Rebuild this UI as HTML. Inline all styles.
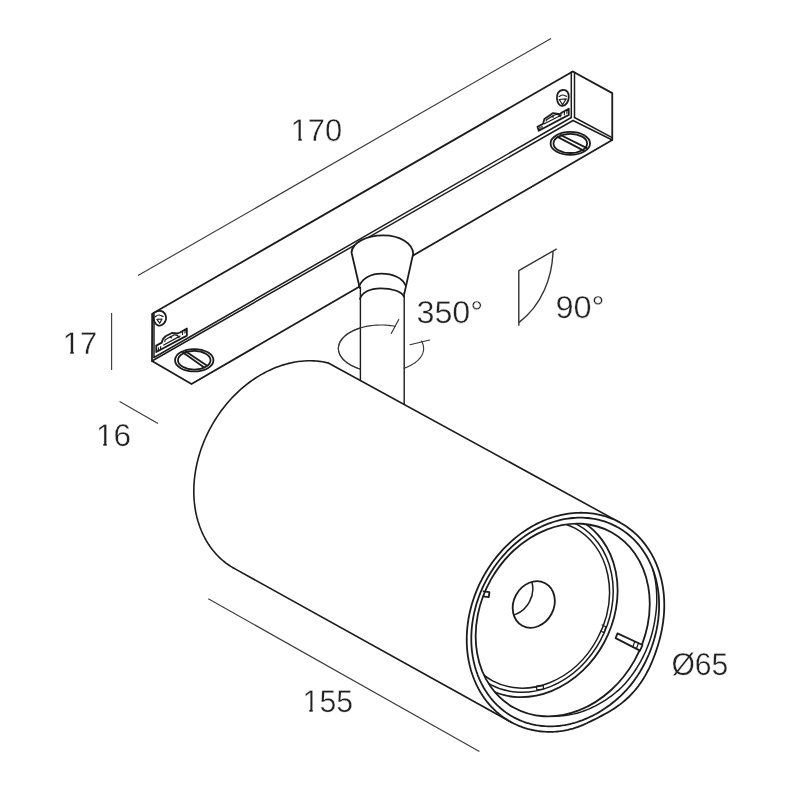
<!DOCTYPE html>
<html><head><meta charset="utf-8"><title>Track spotlight dimensions</title>
<style>
html,body{margin:0;padding:0;background:#fff;}
body{width:800px;height:800px;overflow:hidden;font-family:"Liberation Sans",sans-serif;}
svg{display:block;}
.m{stroke:#1c1c1c;stroke-width:1.8;stroke-linejoin:round;stroke-linecap:round;}
.s{stroke:#1c1c1c;stroke-width:1.4;stroke-linecap:round;fill:none;}
.c{stroke:#1c1c1c;stroke-width:1.6;stroke-linecap:round;stroke-linejoin:round;fill:none;}
.n{stroke:#1c1c1c;stroke-width:1.5;stroke-linecap:round;fill:none;}
.t{stroke:#1c1c1c;stroke-width:1.2;stroke-linejoin:round;stroke-linecap:round;fill:none;}
.r{stroke:#333;stroke-width:1.15;fill:none;stroke-linecap:round;}
.d{stroke:#3c3c3c;stroke-width:1.15;fill:none;}
.d2{stroke:#333;stroke-width:1.4;fill:none;stroke-linejoin:round;}
.tx{font-family:"Liberation Sans",sans-serif;font-size:31.6px;fill:#222;stroke:#fff;stroke-width:0.4px;text-rendering:geometricPrecision;}
</style></head>
<body>
<svg width="800" height="800" viewBox="0 0 800 800">
<rect x="0" y="0" width="800" height="800" fill="#fff"/>
<g id="track">
<path d="M152.20,313.80 L572.75,71.50 L612.25,93.10 L612.25,140.00 L191.50,384.00 L152.00,361.00 Z" fill="#fff" class="m"/>
<path d="M154.0,314.6 L154.0,357.4" class="n"/>
<path d="M154.0,357.5 L571.3,117.5" class="n"/>
<path d="M152.0,361.0 L573.0,120.5" class="n"/>
<path d="M571.3,72.2 L571.3,117.5" class="n"/>
<path d="M574.5,72.3 L574.5,117.5" class="n"/>
<path d="M574.5,117.5 L612.2,137.6" class="n"/>
<path d="M573.0,120.5 L612.25,140.0" class="n"/>
<ellipse cx="194.25" cy="360.25" rx="19.20" ry="11.20" class="m" fill="none"/><ellipse cx="194.25" cy="360.25" rx="16.30" ry="9.30" class="m" fill="none"/><path d="M183.00,352.60 L204.20,367.60" class="m"/><path d="M185.80,351.40 L206.80,365.60" class="m"/>
<ellipse cx="570.30" cy="143.40" rx="19.70" ry="11.50" class="m" fill="none"/><ellipse cx="570.30" cy="143.40" rx="16.80" ry="9.60" class="m" fill="none"/><path d="M557.50,136.90 L583.70,150.60" class="m"/><path d="M560.60,135.00 L586.90,148.10" class="m"/>
<path d="M152.81,314.38 C153.49,313.18 155.78,311.67 157.50,311.25 C159.22,310.83 161.72,311.04 163.12,311.88 C164.53,312.71 165.57,314.69 165.94,316.25 C166.30,317.81 165.99,319.79 165.31,321.25 C164.64,322.71 163.12,324.32 161.88,325.00 C160.62,325.68 158.96,325.68 157.81,325.31 C156.67,324.95 155.73,323.96 155.00,322.81 C154.27,321.67 153.80,319.84 153.44,318.44 C153.07,317.03 152.14,315.57 152.81,314.38 Z" class="m" fill="none"/>
<path d="M155.00,316.88 C155.57,316.56 157.08,315.05 158.44,315.00 C159.79,314.95 162.34,316.30 163.12,316.56" class="t" fill="none"/>
<path d="M156.88,319.38 L162.00,319.00 L159.69,323.25 Z" class="t" fill="none"/>
<path d="M156.25,345.62 L161.75,342.62 L163.00,338.88 L165.62,336.25 L171.88,332.94 L177.50,333.50 L180.00,332.50 L186.88,328.44 L186.88,335.62 L156.25,352.00 Z" class="m" fill="none"/>
<path d="M163.75,345.00 L180.00,336.12" class="t" fill="none"/>
<path d="M164.88,341.56 L164.88,340.00 L171.25,336.25 L171.25,338.00" class="t" fill="none"/>
<path d="M171.88,336.25 C172.29,336.02 173.44,334.98 174.38,334.88 C175.31,334.77 176.72,335.17 177.50,335.62 C178.28,336.08 178.80,337.29 179.06,337.62" class="t" fill="none"/>
<path d="M158.44,347.81 L158.44,350.62" class="t" fill="none"/>
<path d="M160.62,346.56 L160.62,349.06" class="t" fill="none"/>
<path d="M182.50,331.25 L182.50,334.38" class="t" fill="none"/>
<path d="M185.00,329.88 L185.00,333.00" class="t" fill="none"/>
<path d="M562.50,90.00 C564.06,89.84 566.46,90.62 567.50,91.88 C568.54,93.12 568.85,95.62 568.75,97.50 C568.65,99.38 567.92,101.72 566.88,103.12 C565.83,104.53 563.85,105.78 562.50,105.94 C561.15,106.09 559.67,105.26 558.75,104.06 C557.83,102.86 557.10,100.62 557.00,98.75 C556.90,96.88 557.21,94.27 558.12,92.81 C559.04,91.35 560.94,90.16 562.50,90.00 Z" class="m" fill="none"/>
<path d="M559.06,96.56 C559.64,96.30 561.25,95.03 562.50,95.00 C563.75,94.97 565.89,96.15 566.56,96.38" class="t" fill="none"/>
<path d="M559.25,99.50 L566.25,98.88 L562.50,104.75 Z" class="t" fill="none"/>
<path d="M537.50,126.88 L543.12,123.75 L544.38,118.88 L553.12,113.12 L560.00,114.12 L561.88,112.50 L568.75,108.75 L568.75,114.88 L538.75,130.75 Z" class="m" fill="none"/>
<path d="M544.38,123.75 L561.56,115.00" class="t" fill="none"/>
<path d="M546.25,120.94 L546.25,120.00 L553.12,115.62 L553.12,117.38" class="t" fill="none"/>
<path d="M553.75,115.62 C554.17,115.44 555.36,114.58 556.25,114.50 C557.14,114.42 558.39,114.73 559.06,115.12 C559.74,115.52 560.10,116.58 560.31,116.88" class="t" fill="none"/>
<path d="M540.00,127.19 L540.00,129.38" class="t" fill="none"/>
<path d="M542.00,126.12 L542.00,128.25" class="t" fill="none"/>
<path d="M564.38,111.56 L564.38,114.69" class="t" fill="none"/>
<path d="M566.88,110.12 L566.88,113.25" class="t" fill="none"/>
</g>
<g id="cyl">
<path d="M328.33,363.00 L325.45,362.35 L322.52,361.81 L319.57,361.38 L316.58,361.07 L313.56,360.87 L310.52,360.78 L307.46,360.81 L304.38,360.95 L301.29,361.21 L298.18,361.58 L295.06,362.06 L291.94,362.66 L288.82,363.37 L285.70,364.18 L282.58,365.11 L279.48,366.15 L276.38,367.30 L273.29,368.55 L270.23,369.91 L267.18,371.38 L264.16,372.94 L261.17,374.61 L258.21,376.38 L255.28,378.24 L252.39,380.20 L249.53,382.26 L246.72,384.40 L243.96,386.64 L241.24,388.96 L238.58,391.37 L235.97,393.85 L233.41,396.42 L230.92,399.06 L228.49,401.78 L226.12,404.57 L223.82,407.42 L221.59,410.34 L219.43,413.33 L217.35,416.37 L215.34,419.47 L213.41,422.61 L211.56,425.81 L209.80,429.06 L208.12,432.34 L206.52,435.67 L205.02,439.03 L203.60,442.42 L202.27,445.84 L201.04,449.28 L199.90,452.75 L198.85,456.23 L197.90,459.72 L197.05,463.23 L196.29,466.74 L195.64,470.26 L195.08,473.77 L194.62,477.28 L194.27,480.78 L194.01,484.27 L193.86,487.74 L193.80,491.19 L193.85,494.62 L194.00,498.02 L194.25,501.39 L194.60,504.73 L195.05,508.03 L195.60,511.29 L196.25,514.51 L197.00,517.68 L197.85,520.79 L198.79,523.86 L199.83,526.86 L200.97,529.80 L202.19,532.69 L203.52,535.50 L204.93,538.24 L206.43,540.91 L208.02,543.51 L209.69,546.03 L211.46,548.47 L213.30,550.82 L215.22,553.09 L217.22,555.27 L219.30,557.35 L221.46,559.35 L223.68,561.25 L225.98,563.06 L228.34,564.76 L230.77,566.37 L233.26,567.87 L511.56,722.36 L619.81,522.45 Z" fill="#fff" stroke="none"/>
</g>
<path d="M403.80,368.35 L404.75,368.01 L405.68,367.65 L406.59,367.29 L407.49,366.90 L408.37,366.51 L409.22,366.10 L410.06,365.68 L410.88,365.25 L411.68,364.81 L412.45,364.35 L413.20,363.88 L413.93,363.41 L414.64,362.92 L415.32,362.42 L415.98,361.91 L416.61,361.39 L417.22,360.87 L417.81,360.33 L418.36,359.79 L418.89,359.24 L419.40,358.68 L419.87,358.11 L420.32,357.54 L420.74,356.96 L421.14,356.37 L421.50,355.78 L421.84,355.19 L422.15,354.58 L422.43,353.98 L422.68,353.37 L422.90,352.76 L423.09,352.14 L423.25,351.52 L423.38,350.90 L423.48,350.28 L423.55,349.66 L423.59,349.03 L423.60,348.41 L423.58,347.78 L423.53,347.16 L423.45,346.54 L423.34,345.92 L423.20,345.30 L423.03,344.68 L422.83,344.06 L422.61,343.45 L422.35,342.84 L422.06,342.24 L421.74,341.64 L421.40,341.05" class="r"/>
<path d="M395.00,326.31 L392.59,325.89 L390.15,325.55 L387.67,325.29 L385.17,325.11 L382.65,325.02 L380.13,325.00 L377.61,325.07 L375.10,325.23 L372.62,325.46 L370.16,325.77 L367.74,326.17 L365.37,326.64 L363.05,327.19 L360.79,327.81 L358.61,328.51 L356.50,329.27 L354.48,330.11 L352.56,331.01 L350.73,331.96 L349.01,332.98 L347.40,334.05 L345.91,335.18 L344.54,336.35 L343.30,337.56 L342.19,338.81 L341.22,340.09 L340.39,341.40 L339.70,342.74 L339.15,344.10 L338.75,345.48 L338.50,346.86 L338.40,348.25 L338.45,349.64 L338.65,351.03 L338.99,352.41 L339.49,353.77 L340.12,355.12 L340.91,356.44 L341.83,357.74 L342.89,359.00 L344.08,360.22 L345.40,361.41 L346.85,362.55 L348.42,363.64 L350.10,364.68 L351.89,365.66 L353.78,366.58 L355.77,367.43 L357.84,368.22 L360.00,368.95" class="r" id="rot-back"/>
<g id="stem">
<path d="M360,290 L360,381 L403.8,405 L403.8,290 Z" fill="#fff" stroke="none"/>
<path d="M351.5,252.4 C352.2,243.2 365.5,235.3 383.4,235.3 C400.5,235.3 412.6,243.6 413.2,253.5 L404.4,293.4 L404,300 L360,300 L359.7,287.8 Z" fill="#fff" stroke="none"/>
<path d="M359.7,287.8 L351.5,252.4 C352.2,243.2 365.5,235.3 383.4,235.3 C400.5,235.3 412.6,243.6 413.2,253.5 L404.4,293.4" class="m" fill="none"/>
<path d="M359.4,286.0 C362.0,278.6 371.0,273.7 381.5,273.7 C393.0,273.7 402.5,278.2 405.3,285.0" class="m" fill="none"/>
<path d="M360.0,299.0 C361.6,292.6 370.0,288.3 380.6,288.3 C392.0,288.3 401.6,291.4 404.0,296.6" class="m" fill="none"/>
<path d="M360.4,287.5 L360.4,380.5" class="s"/>
<path d="M404.2,293 L404.2,404.6" class="s"/>
</g>
<path d="M395.00,326.31 L393.46,326.03 L391.90,325.78 L390.32,325.57 L388.73,325.39 L387.13,325.24 L385.51,325.13 L383.90,325.05 L382.28,325.01 L380.65,325.00 L379.03,325.03 L377.41,325.08 L375.79,325.18 L374.19,325.30 L372.59,325.46 L371.00,325.66 L369.43,325.88 L367.88,326.14 L366.35,326.43 L364.83,326.76 L363.34,327.11 L361.88,327.50 L360.44,327.92 L359.03,328.36 L357.66,328.84 L356.32,329.35 L355.01,329.88 L353.75,330.44 L352.52,331.02 L351.33,331.64 L350.19,332.27 L349.09,332.93 L348.04,333.61 L347.03,334.32 L346.08,335.04 L345.17,335.79 L344.32,336.55 L343.52,337.33 L342.78,338.12 L342.09,338.93 L341.46,339.76 L340.88,340.60 L340.36,341.45 L339.91,342.30 L339.51,343.17 L339.17,344.05 L338.89,344.93 L338.68,345.82 L338.52,346.71 L338.43,347.60 L338.40,348.50" class="r"/>
<path d="M338.40,348.50 L338.41,349.00 L338.44,349.49 L338.49,349.99 L338.55,350.48 L338.64,350.98 L338.74,351.47 L338.86,351.96 L339.01,352.45 L339.17,352.94 L339.35,353.42 L339.54,353.91 L339.76,354.39 L339.99,354.87 L340.25,355.34 L340.52,355.82 L340.81,356.29 L341.11,356.75 L341.44,357.21 L341.78,357.67 L342.14,358.13 L342.52,358.58 L342.91,359.02 L343.32,359.47 L343.75,359.90 L344.19,360.33 L344.65,360.76 L345.13,361.18 L345.63,361.59 L346.13,362.00 L346.66,362.41 L347.20,362.80 L347.75,363.19 L348.32,363.58 L348.91,363.95 L349.50,364.32 L350.12,364.69 L350.74,365.04 L351.38,365.39 L352.04,365.73 L352.70,366.07 L353.38,366.39 L354.07,366.71 L354.77,367.02 L355.49,367.32 L356.21,367.61 L356.95,367.90 L357.70,368.17 L358.45,368.44 L359.22,368.70 L360.00,368.95" class="r"/>
<path d="M398.75,319.4 L391.25,333.4" class="r"/>
<path d="M410.0,344.7 L429.7,340.0" class="r"/>
<g id="cyl-lines">
<path d="M328.33,363.00 L325.45,362.35 L322.52,361.81 L319.57,361.38 L316.58,361.07 L313.56,360.87 L310.52,360.78 L307.46,360.81 L304.38,360.95 L301.29,361.21 L298.18,361.58 L295.06,362.06 L291.94,362.66 L288.82,363.37 L285.70,364.18 L282.58,365.11 L279.48,366.15 L276.38,367.30 L273.29,368.55 L270.23,369.91 L267.18,371.38 L264.16,372.94 L261.17,374.61 L258.21,376.38 L255.28,378.24 L252.39,380.20 L249.53,382.26 L246.72,384.40 L243.96,386.64 L241.24,388.96 L238.58,391.37 L235.97,393.85 L233.41,396.42 L230.92,399.06 L228.49,401.78 L226.12,404.57 L223.82,407.42 L221.59,410.34 L219.43,413.33 L217.35,416.37 L215.34,419.47 L213.41,422.61 L211.56,425.81 L209.80,429.06 L208.12,432.34 L206.52,435.67 L205.02,439.03 L203.60,442.42 L202.27,445.84 L201.04,449.28 L199.90,452.75 L198.85,456.23 L197.90,459.72 L197.05,463.23 L196.29,466.74 L195.64,470.26 L195.08,473.77 L194.62,477.28 L194.27,480.78 L194.01,484.27 L193.86,487.74 L193.80,491.19 L193.85,494.62 L194.00,498.02 L194.25,501.39 L194.60,504.73 L195.05,508.03 L195.60,511.29 L196.25,514.51 L197.00,517.68 L197.85,520.79 L198.79,523.86 L199.83,526.86 L200.97,529.80 L202.19,532.69 L203.52,535.50 L204.93,538.24 L206.43,540.91 L208.02,543.51 L209.69,546.03 L211.46,548.47 L213.30,550.82 L215.22,553.09 L217.22,555.27 L219.30,557.35 L221.46,559.35 L223.68,561.25 L225.98,563.06 L228.34,564.76 L230.77,566.37 L233.26,567.87" class="c" fill="none"/>
<path d="M328.33,363.00 L619.81,522.45" class="c"/>
<path d="M233.26,567.87 L511.56,722.36" class="c"/>
<path d="M482.76,577.69 L484.20,575.09 L485.69,572.52 L487.25,569.98 L488.85,567.48 L490.51,565.01 L492.22,562.59 L493.97,560.21 L495.78,557.86 L497.64,555.57 L499.54,553.32 L501.49,551.11 L503.48,548.96 L505.51,546.85 L507.59,544.80 L509.70,542.80 L511.85,540.85 L514.04,538.96 L516.27,537.13 L518.52,535.36 L520.81,533.64 L523.14,531.99 L525.49,530.39 L527.86,528.87 L530.27,527.40 L532.69,526.00 L535.14,524.67 L537.62,523.40 L540.11,522.20 L542.61,521.07 L545.14,520.01 L547.67,519.02 L550.22,518.10 L552.78,517.25 L555.35,516.47 L557.93,515.77 L560.51,515.13 L563.09,514.58 L565.68,514.09 L568.26,513.68 L570.84,513.35 L573.42,513.08 L576.00,512.90 L578.57,512.79 L581.12,512.75 L583.67,512.79 L586.21,512.90 L588.73,513.09 L591.23,513.36 L593.72,513.70 L596.19,514.11 L598.64,514.60 L601.06,515.16 L603.46,515.79 L605.83,516.50 L608.18,517.28 L610.50,518.13 L612.78,519.05 L615.04,520.05 L617.26,521.11 L619.44,522.24 L621.59,523.45 L623.70,524.72 L625.77,526.05 L627.80,527.46 L629.78,528.92 L631.72,530.45 L633.62,532.05 L635.47,533.71 L637.27,535.42 L639.02,537.20 L640.72,539.03 L642.37,540.93 L643.97,542.87 L645.51,544.88 L647.00,546.93 L648.43,549.04 L649.81,551.20 L651.13,553.40 L652.39,555.65 L653.59,557.95 L654.73,560.30 L655.80,562.68 L656.82,565.11 L657.77,567.57 L658.66,570.08 L659.49,572.61 L660.25,575.19 L660.95,577.79 L661.58,580.43 L662.15,583.09 L662.65,585.78 L663.08,588.50 L663.45,591.24 L663.75,594.00 L663.98,596.78 L664.15,599.58 L664.24,602.39 L664.27,605.22 L664.24,608.05 L664.13,610.90 L663.96,613.76 L663.73,616.62 L663.43,619.49 L663.06,622.35 L662.63,625.22 L662.14,628.09 L661.58,630.96 L660.97,633.82 L660.30,636.68 L659.58,639.53 L658.80,642.37 L657.96,645.21 L657.08,648.04 L656.14,650.86 L655.16,653.67 L654.12,656.47 L653.02,659.26 L651.88,662.04 L650.67,664.80 L649.41,667.54 L648.08,670.25 L646.68,672.94 L645.22,675.60 L643.67,678.21 L642.06,680.78 L640.36,683.30 L638.59,685.75 L636.75,688.15 L634.83,690.47 L632.84,692.73 L630.79,694.91 L628.68,697.01 L626.51,699.03 L624.29,700.97 L622.03,702.84 L619.72,704.62 L617.38,706.33 L615.01,707.95 L612.62,709.51 L610.20,710.99 L607.77,712.41 L605.33,713.78 L602.89,715.11 L600.44,716.41 L597.99,717.68 L595.54,718.93 L593.09,720.16 L590.63,721.37 L588.17,722.56 L585.69,723.71 L583.19,724.82 L580.68,725.86 L578.16,726.83 L575.61,727.72 L573.05,728.53 L570.48,729.24 L567.91,729.87 L565.32,730.40 L562.74,730.85 L560.16,731.21 L557.58,731.49 L555.00,731.69 L552.43,731.80 L549.88,731.84 L547.33,731.81 L544.79,731.69 L542.27,731.51 L539.77,731.24 L537.28,730.90 L534.81,730.49 L532.36,730.00 L529.94,729.44 L527.54,728.81 L525.17,728.10 L522.82,727.32 L520.50,726.47 L518.22,725.55 L515.96,724.55 L513.74,723.49 L511.56,722.36 L509.41,721.15 L507.30,719.88 L505.23,718.55 L503.20,717.14 L501.22,715.68 L499.28,714.15 L497.38,712.55 L495.53,710.89 L493.73,709.18 L491.98,707.40 L490.28,705.57 L488.63,703.67 L487.03,701.73 L485.49,699.72 L484.00,697.67 L482.57,695.56 L481.19,693.40 L479.87,691.20 L478.61,688.95 L477.41,686.65 L476.27,684.30 L475.20,681.92 L474.18,679.49 L473.23,677.03 L472.34,674.52 L471.51,671.99 L470.75,669.41 L470.05,666.81 L469.42,664.17 L468.85,661.51 L468.35,658.82 L467.92,656.10 L467.55,653.36 L467.25,650.60 L467.02,647.82 L466.85,645.02 L466.76,642.21 L466.73,639.38 L466.77,636.54 L466.87,633.70 L467.05,630.84 L467.29,627.98 L467.60,625.11 L467.97,622.25 L468.41,619.38 L468.92,616.51 L469.50,613.65 L470.14,610.79 L470.85,607.95 L471.62,605.11 L472.45,602.28 L473.35,599.47 L474.31,596.67 L475.34,593.89 L476.43,591.13 L477.57,588.40 L478.78,585.68 L480.05,582.99 L481.37,580.33 Z" fill="#fff" class="m"/>
<path d="M486.60,579.62 L487.97,577.14 L489.39,574.69 L490.87,572.27 L492.40,569.89 L493.98,567.54 L495.60,565.23 L497.28,562.96 L499.00,560.73 L500.77,558.54 L502.58,556.39 L504.43,554.29 L506.32,552.24 L508.26,550.23 L510.23,548.27 L512.25,546.37 L514.29,544.51 L516.38,542.71 L518.50,540.96 L520.64,539.27 L522.82,537.64 L525.03,536.06 L527.27,534.54 L529.53,533.08 L531.82,531.68 L534.13,530.35 L536.46,529.07 L538.81,527.86 L541.17,526.72 L543.56,525.64 L545.96,524.63 L548.37,523.68 L550.80,522.80 L553.23,521.99 L555.67,521.25 L558.12,520.57 L560.58,519.97 L563.03,519.43 L565.49,518.97 L567.95,518.58 L570.41,518.25 L572.86,518.00 L575.31,517.82 L577.75,517.71 L580.18,517.68 L582.60,517.71 L585.01,517.82 L587.41,517.99 L589.79,518.24 L592.15,518.56 L594.50,518.95 L596.82,519.41 L599.13,519.94 L601.41,520.54 L603.66,521.22 L605.89,521.96 L608.10,522.76 L610.27,523.64 L612.41,524.58 L614.52,525.59 L616.59,526.67 L618.63,527.81 L620.64,529.02 L622.60,530.29 L624.53,531.62 L626.41,533.02 L628.26,534.47 L630.06,535.99 L631.81,537.57 L633.52,539.20 L635.19,540.89 L636.80,542.63 L638.37,544.43 L639.88,546.28 L641.35,548.19 L642.76,550.14 L644.12,552.15 L645.43,554.20 L646.68,556.30 L647.87,558.44 L649.01,560.63 L650.09,562.86 L651.11,565.13 L652.08,567.44 L652.98,569.79 L653.82,572.17 L654.61,574.58 L655.33,577.03 L655.99,579.51 L656.59,582.02 L657.12,584.56 L657.59,587.12 L658.00,589.71 L658.35,592.31 L658.63,594.94 L658.85,597.59 L659.00,600.25 L659.09,602.93 L659.11,605.62 L659.08,608.32 L658.97,611.04 L658.80,613.75 L658.57,616.48 L658.28,619.21 L657.92,621.94 L657.50,624.67 L657.01,627.40 L656.47,630.13 L655.86,632.85 L655.19,635.56 L654.47,638.27 L653.68,640.96 L652.84,643.65 L651.94,646.32 L650.98,648.97 L649.97,651.62 L648.90,654.24 L647.77,656.84 L646.59,659.43 L645.36,661.99 L644.07,664.52 L642.73,667.03 L641.33,669.51 L639.88,671.96 L638.37,674.38 L636.81,676.75 L635.19,679.09 L633.52,681.39 L631.80,683.64 L630.02,685.84 L628.19,687.99 L626.32,690.10 L624.40,692.14 L622.43,694.14 L620.43,696.08 L618.39,697.96 L616.31,699.79 L614.19,701.57 L612.05,703.28 L609.87,704.95 L607.67,706.55 L605.44,708.10 L603.19,709.59 L600.91,711.03 L598.62,712.40 L596.30,713.72 L593.96,714.98 L591.61,716.18 L589.23,717.31 L586.85,718.38 L584.44,719.39 L582.03,720.33 L579.61,721.21 L577.17,722.02 L574.73,722.76 L572.28,723.43 L569.82,724.03 L567.37,724.57 L564.91,725.03 L562.45,725.42 L559.99,725.75 L557.54,726.00 L555.09,726.18 L552.65,726.29 L550.22,726.32 L547.80,726.29 L545.39,726.18 L542.99,726.01 L540.61,725.76 L538.25,725.44 L535.90,725.05 L533.58,724.59 L531.27,724.06 L528.99,723.46 L526.74,722.78 L524.51,722.04 L522.30,721.24 L520.13,720.36 L517.99,719.42 L515.88,718.41 L513.81,717.33 L511.77,716.19 L509.76,714.98 L507.80,713.71 L505.87,712.38 L503.99,710.98 L502.14,709.53 L500.34,708.01 L498.59,706.43 L496.88,704.80 L495.21,703.11 L493.60,701.37 L492.03,699.57 L490.52,697.72 L489.05,695.81 L487.64,693.86 L486.28,691.85 L484.97,689.80 L483.72,687.70 L482.53,685.56 L481.39,683.37 L480.31,681.14 L479.29,678.87 L478.32,676.56 L477.42,674.21 L476.58,671.83 L475.79,669.42 L475.07,666.97 L474.41,664.49 L473.81,661.98 L473.28,659.44 L472.81,656.88 L472.40,654.29 L472.05,651.69 L471.77,649.06 L471.55,646.41 L471.40,643.75 L471.31,641.07 L471.29,638.38 L471.33,635.68 L471.43,632.96 L471.60,630.25 L471.83,627.52 L472.13,624.79 L472.49,622.06 L472.91,619.33 L473.40,616.60 L473.95,613.87 L474.56,611.16 L475.24,608.44 L475.97,605.74 L476.77,603.05 L477.63,600.37 L478.55,597.70 L479.52,595.06 L480.56,592.43 L481.65,589.82 L482.81,587.23 L484.01,584.67 L485.28,582.13 Z" fill="none" class="m"/>
<ellipse cx="562.70" cy="620.00" rx="82.40" ry="100.40" transform="rotate(29.3 562.70 620.00)" class="m" fill="none"/>
<path d="M652.73,569.11 L653.26,570.97 L653.75,572.84 L654.20,574.73 L654.62,576.63 L655.00,578.55 L655.34,580.48 L655.64,582.42 L655.90,584.38 L656.12,586.34 L656.31,588.31 L656.46,590.30 L656.57,592.29 L656.66,594.28 L656.73,596.28 L656.77,598.29 L656.77,600.30 L656.74,602.32 L656.66,604.34 L656.55,606.36 L656.40,608.39 L656.21,610.42 L655.98,612.45 L655.72,614.48 L655.42,616.51 L655.09,618.53 L654.78,620.56 L654.44,622.59 L654.06,624.62 L653.65,626.64 L653.20,628.66 L652.71,630.68 L652.19,632.69 L651.64,634.70 L651.05,636.70 L650.43,638.69 L649.78,640.67 L649.09,642.65 L648.37,644.62 L647.61,646.57 L646.83,648.52 L646.01,650.45 L645.16,652.37 L644.28,654.28 L643.36,656.18 L642.42,658.06 L641.44,659.92 L640.44,661.77 L639.40,663.61 L638.34,665.42 L637.24,667.22 L636.12,668.99 L634.96,670.75 L633.78,672.49 L632.56,674.20 L631.32,675.89 L630.05,677.55 L628.75,679.19 L627.42,680.80 L626.07,682.39 L624.69,683.95 L623.29,685.48 L621.86,686.98 L620.37,688.43 L618.84,689.82 L617.28,691.17 L615.70,692.50 L614.10,693.79 L612.49,695.05 L610.86,696.28 L609.21,697.47 L607.55,698.63 L605.88,699.76 L604.19,700.85 L602.49,701.91 L600.78,702.93 L599.06,703.92 L597.32,704.88 L595.58,705.80 L593.83,706.68 L592.06,707.53 L590.29,708.34 L588.52,709.12 L586.73,709.85 L584.94,710.55 L583.14,711.22 L581.34,711.84 L579.54,712.43 L577.72,712.96 L575.89,713.43 L574.05,713.87 L572.22,714.26 L570.39,714.61 L568.56,714.93 L566.73,715.20 L564.90,715.44 L563.08,715.63 L561.26,715.79 L559.44,715.90 L557.64,715.98 L555.83,716.01" fill="none" class="n"/>
<clipPath id="clipE2"><ellipse cx="562.70" cy="620.00" rx="82.40" ry="100.40" transform="rotate(29.3 562.70 620.00)"/></clipPath>
<g clip-path="url(#clipE2)">
<ellipse cx="533.75" cy="604.50" rx="80.00" ry="96.00" transform="rotate(28.33 533.75 604.50)" class="m" fill="none"/>
<ellipse cx="533.75" cy="604.50" rx="75.80" ry="91.00" transform="rotate(28.33 533.75 604.50)" class="n" fill="none"/>
<ellipse cx="533.75" cy="604.50" rx="72.20" ry="86.70" transform="rotate(28.33 533.75 604.50)" class="n" fill="none"/>
</g>
<ellipse cx="533.75" cy="604.50" rx="20.10" ry="24.10" transform="rotate(28.33 533.75 604.50)" class="m" fill="none"/>
<clipPath id="clipH"><ellipse cx="533.75" cy="604.50" rx="20.1" ry="24.1" transform="rotate(28.33 533.75 604.50)"/></clipPath>
<g clip-path="url(#clipH)"><ellipse cx="511.75" cy="592.40" rx="20.10" ry="24.10" transform="rotate(28.33 511.75 592.40)" class="n" fill="none"/></g>
<path d="M617.5,633.4 L642.5,645.0 L640.0,650.6 L615.6,638.1 Z" class="m" fill="#fff"/>
<path d="M634.8,641.5 L632.8,646.9 M638.4,643.2 L636.4,648.7" class="t"/>
<path d="M536.4,686.2 L543.2,685.6 L543.6,689.0 L536.8,689.8 Z" class="t"/>
<path d="M602.2,625.0 L605.8,626.8 L604.0,632.6 L600.6,631.0" class="t"/>
<path d="M483.6,591.4 L489.4,592.2 L488.8,597.2 L483.0,596.4" class="m" fill="none"/>
</g>
<g id="dims">
<path d="M138,275.6 L551,38.4" class="d"/>
<path d="M111.6,313 L111.6,370" class="d"/>
<path d="M119.6,401.6 L158,423.6" class="d"/>
<path d="M208.25,598.75 L479.4,751.4" class="d"/>
<path d="M518.8,325.8 L518.8,270.6 L556.8,248.8" class="d2" fill="none"/>
<path d="M553.0,250.9 C552.5,276 542.5,305 518.8,322.6" class="d2" fill="none"/>
</g>
<g style="filter:grayscale(1)"><text transform="translate(290.60 141.40) scale(0.978 1)" x="0" y="0" class="tx">170</text></g>
<g style="filter:grayscale(1)"><text transform="translate(62.70 354.40) scale(0.982 1)" x="0" y="0" class="tx">17</text></g>
<g style="filter:grayscale(1)"><text transform="translate(95.90 445.60) scale(1.0 1)" x="0" y="0" class="tx">16</text></g>
<g style="filter:grayscale(1)"><text transform="translate(302.60 712.00) scale(0.957 1)" x="0" y="0" class="tx">155</text></g>
<g style="filter:grayscale(1)"><text transform="translate(416.40 322.60) scale(1.023 1)" x="0" y="0" class="tx">350°</text></g>
<g style="filter:grayscale(1)"><text transform="translate(555.40 317.80) scale(1.03 1)" x="0" y="0" class="tx">90°</text></g>
<g style="filter:grayscale(1)"><text transform="translate(671.40 675.20) scale(0.953 1)" x="0" y="0" class="tx">Ø65</text></g>
<rect x="291.0" y="137.6" width="7.3" height="4.6" fill="#fff"/>
<rect x="301.75" y="137.6" width="7.3" height="4.6" fill="#fff"/>
<rect x="63.0" y="350.6" width="7.3" height="4.6" fill="#fff"/>
<rect x="73.75" y="350.6" width="7.3" height="4.6" fill="#fff"/>
<rect x="96.0" y="442.6" width="7.3" height="4.6" fill="#fff"/>
<rect x="106.75" y="442.6" width="7.3" height="4.6" fill="#fff"/>
<rect x="302.0" y="708.6" width="7.3" height="4.6" fill="#fff"/>
<rect x="312.75" y="708.6" width="7.3" height="4.6" fill="#fff"/>
</svg>
</body></html>
